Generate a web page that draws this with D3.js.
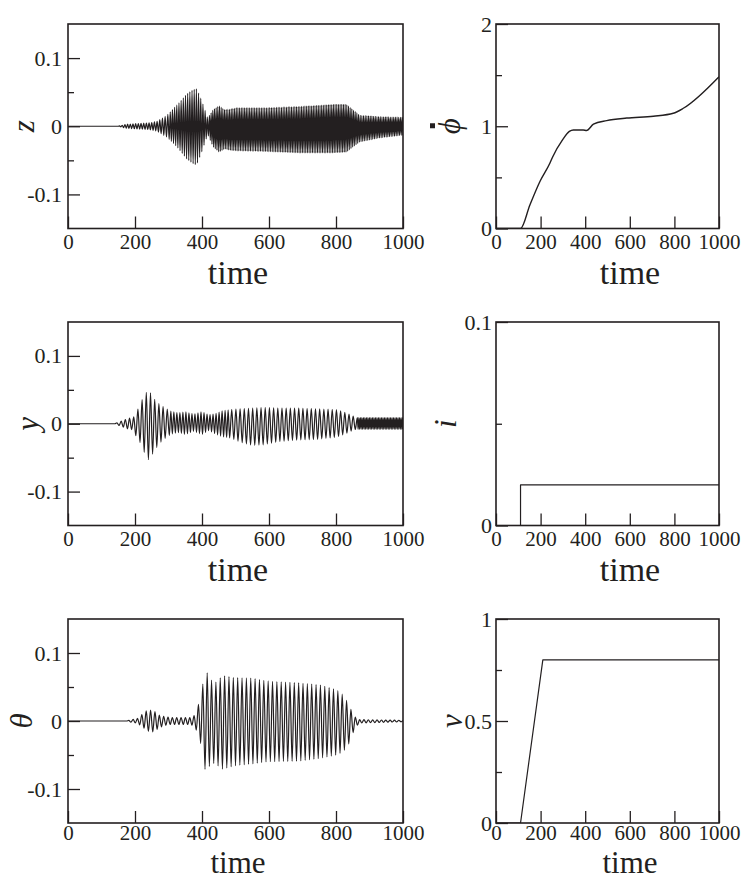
<!DOCTYPE html>
<html>
<head>
<meta charset="utf-8">
<script src="https://cdn.jsdelivr.net/npm/d3@7"></script>
<style>
  body { margin: 0; background: #fff; }
  text { font-family: "Liberation Serif", "Times New Roman", serif; fill: #231f20; }
</style>
</head>
<body>
<svg id="fig" width="745" height="880"></svg>
<script>
// ---------- data ----------
const timeTicks = [0, 200, 400, 600, 800, 1000];

// z(t): envelope knots of the fast oscillation and its period
const zEnvTime  = [150, 175, 245, 265, 295, 325, 354, 374, 384, 399, 417, 433, 451, 468, 483, 503, 592, 692, 791, 831, 851, 871, 931, 1000];
const zEnvUpper = [0, 0.003, 0.005, 0.007, 0.016, 0.031, 0.047, 0.054, 0.055, 0.038, 0.012, 0.024, 0.030, 0.024, 0.025, 0.027, 0.027, 0.029, 0.032, 0.032, 0.024, 0.016, 0.014, 0.013];
const zEnvLower = [0, -0.003, -0.005, -0.007, -0.016, -0.030, -0.048, -0.055, -0.057, -0.038, -0.012, -0.030, -0.038, -0.033, -0.035, -0.036, -0.037, -0.039, -0.039, -0.038, -0.030, -0.023, -0.017, -0.013];
const zPeriodFrom = [150, 300, 420];
const zPeriod     = [8, 6.5, 5];

// y(t)
const yEnvTime  = [140, 160, 180, 195, 200, 212, 225, 240, 255, 270, 285, 295, 310, 330, 350, 375, 400, 420, 440, 460, 484, 520, 550, 583, 633, 683, 743, 802, 832, 852, 862, 1000];
const yEnvUpper = [0, 0.004, 0.008, 0.009, 0.013, 0.025, 0.040, 0.051, 0.038, 0.030, 0.025, 0.022, 0.018, 0.016, 0.018, 0.014, 0.018, 0.013, 0.015, 0.019, 0.021, 0.022, 0.023, 0.024, 0.023, 0.023, 0.022, 0.021, 0.016, 0.011, 0.009, 0.009];
const yEnvLower = [0, -0.004, -0.008, -0.009, -0.016, -0.024, -0.040, -0.053, -0.043, -0.031, -0.023, -0.020, -0.015, -0.013, -0.016, -0.011, -0.016, -0.010, -0.015, -0.019, -0.021, -0.028, -0.032, -0.031, -0.026, -0.024, -0.023, -0.020, -0.014, -0.009, -0.008, -0.008];
const yPeriodFrom = [140, 300, 480, 858];
const yPeriod     = [12.5, 9, 12.5, 4.5];

// theta(t)
const thEnvTime  = [175, 190, 205, 215, 228, 242, 255, 270, 285, 305, 365, 374, 385, 395, 405, 411, 424, 437, 462, 494, 553, 593, 692, 752, 802, 822, 837, 847, 857, 870, 1000];
const thEnvUpper = [0, 0.002, 0.003, 0.006, 0.014, 0.016, 0.016, 0.009, 0.007, 0.005, 0.005, 0.006, 0.014, 0.037, 0.060, 0.075, 0.063, 0.055, 0.067, 0.064, 0.063, 0.059, 0.056, 0.053, 0.046, 0.038, 0.026, 0.014, 0.006, 0.002, 0.001];
const thEnvLower = [0, -0.002, -0.003, -0.006, -0.011, -0.016, -0.016, -0.011, -0.007, -0.005, -0.005, -0.007, -0.015, -0.030, -0.061, -0.076, -0.065, -0.062, -0.071, -0.066, -0.063, -0.060, -0.059, -0.055, -0.050, -0.045, -0.035, -0.022, -0.010, -0.003, -0.001];
const thPeriodFrom = [175];
const thPeriod     = [13];

// phi-dot(t)
const phiTime = [0, 110, 152, 197, 242, 254, 299, 329, 347, 391, 406, 437, 496, 586, 706, 795, 840, 1000];
const phiVal  = [0, 0, 0.23, 0.46, 0.64, 0.70, 0.87, 0.95, 0.964, 0.964, 0.958, 1.02, 1.055, 1.08, 1.098, 1.127, 1.176, 1.485];

// i(t)
const iTime = [0, 110, 110, 1000];
const iVal  = [0, 0, 0.02, 0.02];

// v(t)
const vTime = [0, 110, 210, 1000];
const vVal  = [0, 0, 0.8, 0.8];

// y-axis ticks and labels
const oscMajor = [-0.1, 0, 0.1], oscMajorLabels = ["-0.1", "0", "0.1"], oscMinor = [-0.05, 0.05];
const phiMajor = [0, 1, 2], phiMajorLabels = ["0", "1", "2"], phiMinor = [0.5, 1.5];
const iMajor = [0, 0.1], iMajorLabels = ["0", "0.1"], iMinor = [0.05];
const vMajor = [0, 0.5, 1], vMajorLabels = ["0", "0.5", "1"], vMinor = [0.25, 0.75];

// ---------- drawing ----------
const svg = d3.select("#fig");
const INK = "#231f20";
const SERIF = "'Liberation Serif','Times New Roman',serif";

// alternate between upper and lower envelope every half period
function carrierTrace(envT, envU, envL, perFrom, per) {
  const up = d3.scaleLinear().domain(envT).range(envU).clamp(true);
  const lo = d3.scaleLinear().domain(envT).range(envL).clamp(true);
  const period = d3.scaleThreshold().domain(perFrom.slice(1)).range(per);
  const pts = [[0, 0], [envT[0], 0]];
  let t = envT[0], k = 0;
  while (t < 1000) {
    t += period(t) / 2; k++;
    const tt = Math.min(t, 1000);
    pts.push([tt, k % 2 ? up(tt) : lo(tt)]);
  }
  return pts;
}

let clipId = 0;
function panel(o) {
  const x = d3.scaleLinear().domain([0, 1000]).range([o.x0, o.x1]);
  const y = d3.scaleLinear().domain(o.yDomain).range([o.y1, o.y0]);
  const g = svg.append("g");

  // data
  const id = "clip" + (clipId++);
  g.append("clipPath").attr("id", id).append("rect")
    .attr("x", o.x0).attr("y", o.y0).attr("width", o.x1 - o.x0).attr("height", o.y1 - o.y0);
  const line = d3.line().x(d => x(d[0])).y(d => y(d[1])).curve(o.curve || d3.curveLinear);
  g.append("path").attr("clip-path", `url(#${id})`)
    .attr("d", line(o.points))
    .attr("fill", "none").attr("stroke", INK)
    .attr("stroke-width", o.lw || 1.2).attr("stroke-linejoin", "round");

  // axes with inward ticks
  g.append("g").attr("transform", `translate(0,${o.y1})`)
    .call(d3.axisBottom(x).tickValues(timeTicks).tickSize(-12).tickPadding(o.xpad).tickFormat(d3.format("d")))
    .selectAll(".tick text").attr("font-size", 21);
  g.append("g").attr("transform", `translate(${o.x0},0)`)
    .call(d3.axisLeft(y).tickValues(o.major).tickSize(-12).tickPadding(o.pad || 6)
      .tickFormat((d, i) => o.majorLabels[i]))
    .selectAll(".tick text").attr("font-size", 22);
  g.append("g").attr("transform", `translate(${o.x0},0)`)
    .call(d3.axisLeft(y).tickValues(o.minor).tickSize(-6).tickFormat(""));
  g.selectAll(".domain").remove();
  g.selectAll("g").attr("font-family", SERIF);
  g.selectAll(".tick line").attr("stroke", INK).attr("stroke-width", 1.3);
  g.selectAll(".tick text").attr("fill", INK).style("font-family", SERIF);

  // frame
  g.append("rect").attr("x", o.x0).attr("y", o.y0)
    .attr("width", o.x1 - o.x0).attr("height", o.y1 - o.y0)
    .attr("fill", "none").attr("stroke", INK).attr("stroke-width", 1.6);

  // axis titles
  g.append("text").attr("x", o.timeX).attr("y", o.y1 + o.timeDy)
    .attr("text-anchor", "middle").attr("font-size", o.timeFs).text("time");
  g.append("text")
    .attr("transform", `translate(${o.labX},${(o.y0 + o.y1) / 2}) rotate(-90)`)
    .attr("text-anchor", "middle").attr("dominant-baseline", "central")
    .attr("font-size", 31).attr("font-style", "italic").text(o.label);
  if (o.dot) {
    g.append("rect").attr("x", o.labX - 19).attr("y", (o.y0 + o.y1) / 2 - 3)
      .attr("width", 5).attr("height", 5).attr("fill", INK);
  }
}

const L = { x0: 68, x1: 403, timeX: 238 };
const R = { x0: 496, x1: 719, timeX: 630 };
const rows = [[24, 228.5], [322, 525.5], [619, 823]];
const rowOpts = [
  { timeDy: 55, timeFs: 34, xpad: 6 },
  { timeDy: 55, timeFs: 34, xpad: 6 },
  { timeDy: 49.5, timeFs: 31, xpad: 2 }
];

panel(Object.assign({}, L, rowOpts[0], {
  y0: rows[0][0], y1: rows[0][1], yDomain: [-0.15, 0.15],
  major: oscMajor, majorLabels: oscMajorLabels, minor: oscMinor,
  points: carrierTrace(zEnvTime, zEnvUpper, zEnvLower, zPeriodFrom, zPeriod),
  curve: d3.curveMonotoneX, lw: 1.2, label: "z", labX: 23
}));
panel(Object.assign({}, R, rowOpts[0], {
  y0: rows[0][0], y1: rows[0][1], yDomain: [0, 2],
  major: phiMajor, majorLabels: phiMajorLabels, minor: phiMinor, pad: 4,
  points: d3.zip(phiTime, phiVal), curve: d3.curveMonotoneX, lw: 1.4,
  label: "ϕ", labX: 449, dot: true
}));
panel(Object.assign({}, L, rowOpts[1], {
  y0: rows[1][0], y1: rows[1][1], yDomain: [-0.15, 0.15],
  major: oscMajor, majorLabels: oscMajorLabels, minor: oscMinor,
  points: carrierTrace(yEnvTime, yEnvUpper, yEnvLower, yPeriodFrom, yPeriod),
  curve: d3.curveMonotoneX, lw: 1.2, label: "y", labX: 27
}));
panel(Object.assign({}, R, rowOpts[1], {
  y0: rows[1][0], y1: rows[1][1], yDomain: [0, 0.1],
  major: iMajor, majorLabels: iMajorLabels, minor: iMinor, pad: 4,
  points: d3.zip(iTime, iVal), lw: 1.2, label: "i", labX: 445
}));
panel(Object.assign({}, L, rowOpts[2], {
  y0: rows[2][0], y1: rows[2][1], yDomain: [-0.15, 0.15],
  major: oscMajor, majorLabels: oscMajorLabels, minor: oscMinor,
  points: carrierTrace(thEnvTime, thEnvUpper, thEnvLower, thPeriodFrom, thPeriod),
  curve: d3.curveMonotoneX, lw: 1.2, label: "θ", labX: 21
}));
panel(Object.assign({}, R, rowOpts[2], {
  y0: rows[2][0], y1: rows[2][1], yDomain: [0, 1],
  major: vMajor, majorLabels: vMajorLabels, minor: vMinor, pad: 4,
  points: d3.zip(vTime, vVal), lw: 1.2, label: "v", labX: 451
}));
</script>
</body>
</html>
